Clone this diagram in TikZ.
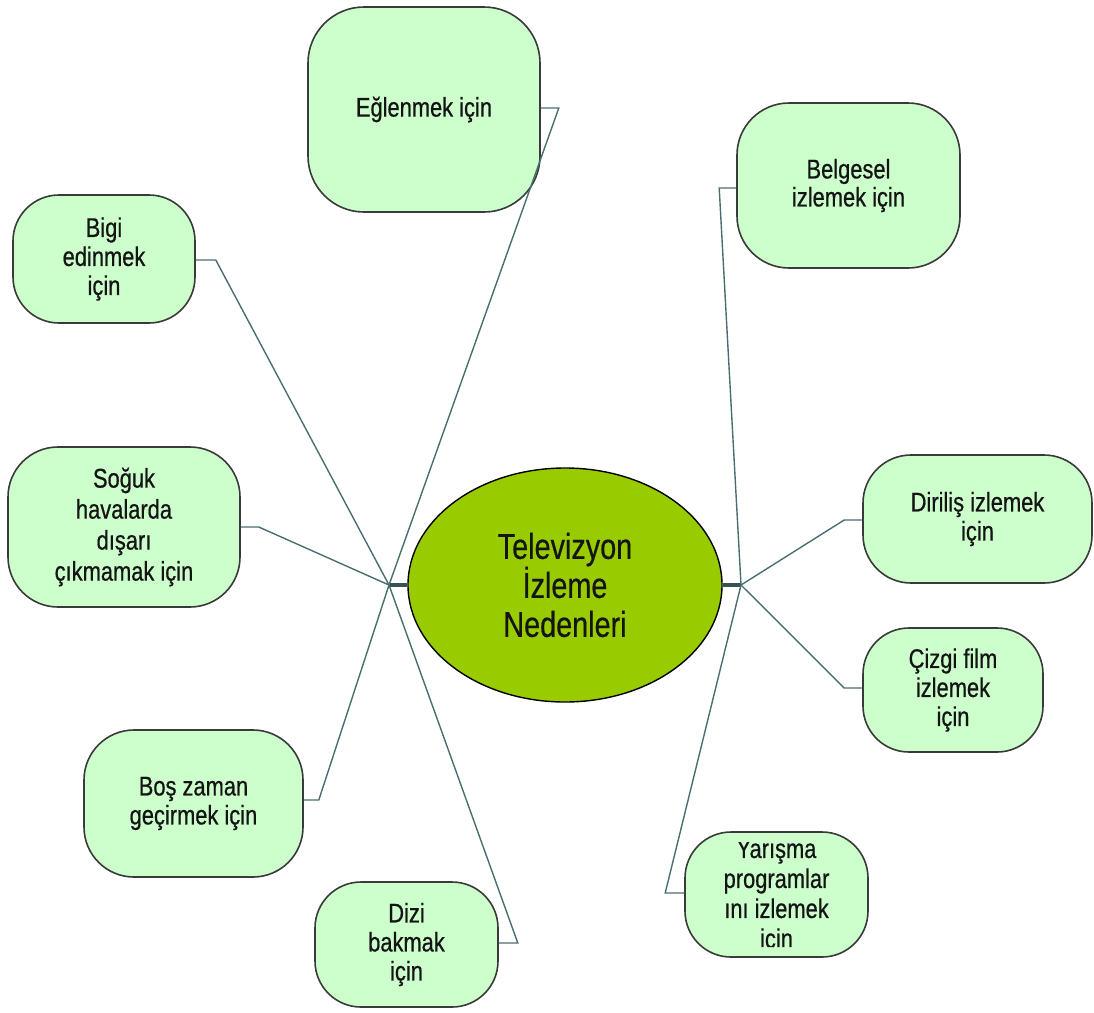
\documentclass[tikz,border=0pt]{standalone}
\usepackage{fontspec}
\setmainfont{Liberation Sans}
\newfontfamily\leafsans[FakeStretch=0.81,FakeBold=0.6]{Liberation Sans}
\newfontfamily\titlesans[FakeStretch=0.8,FakeBold=0.5]{Liberation Sans}
\usetikzlibrary{shapes.geometric}
\definecolor{leaffill}{HTML}{CCFFCC}
\definecolor{hubfill}{HTML}{99CC00}
\definecolor{linkcol}{RGB}{74,110,112}
\definecolor{stubcol}{RGB}{52,84,86}
\definecolor{edgecol}{RGB}{58,58,58}
\definecolor{txtcol}{RGB}{20,20,20}

\begin{document}
\begin{tikzpicture}[x=1pt,y=-1pt,
  leaf/.style={draw=edgecol, line width=1.6pt, fill=leaffill,
    rounded corners=#1, inner sep=0pt, align=center, text=txtcol,
    font=\leafsans\fontsize{27}{29}\selectfont},
  leaf/.default=40pt,
  link/.style={draw=linkcol, line width=1.4pt},
  stub/.style={draw=stubcol, line width=3.5pt}
]
\useasboundingbox (0,0) rectangle (1094,1012);

% central topic
\node[ellipse, draw=black, line width=1.4pt, fill=hubfill, inner sep=0pt,
      minimum width=314pt, minimum height=234pt, align=center, text=txtcol,
      font=\titlesans\fontsize{36}{39}\selectfont]
  (hub) at (565,585) {Televizyon\\İzleme\\Nedenleri};

\coordinate (hubL) at (389,585);
\coordinate (hubR) at (741,585);

% reasons, left side
\node[leaf=56pt, minimum width=232pt, minimum height=205pt]
  (egl) at (424,109.5) {Eğlenmek için};
\node[leaf=46pt, minimum width=182pt, minimum height=128pt]
  (bigi) at (104,259) {Bigi\\edinmek\\için};
\node[leaf=50pt, font=\leafsans\fontsize{27}{31}\selectfont,
      minimum width=232pt, minimum height=160pt]
  (sog) at (124,527) {Soğuk\\havalarda\\dışarı\\çıkmamak için};
\node[leaf=50pt, minimum width=219pt, minimum height=147pt]
  (bos) at (193.5,803.5) {Boş zaman\\geçirmek için};
\node[leaf=46pt, minimum width=183pt, minimum height=125pt]
  (dizi) at (406.5,944.5) {Dizi\\bakmak\\için};

% reasons, right side
\node[leaf=52pt, font=\leafsans\fontsize{27}{28}\selectfont,
      minimum width=223pt, minimum height=165pt]
  (bel) at (848.5,185.5) {Belgesel\\izlemek için};
\node[leaf=48pt, minimum width=229pt, minimum height=128pt]
  (dir) at (977.5,519) {Diriliş izlemek\\için};
\node[leaf=46pt, minimum width=180pt, minimum height=124pt]
  (ciz) at (953,690) {Çizgi film\\izlemek\\için};
% this label overflows its box and is cut off at the inner text area
\node[leaf=46pt, minimum width=183pt, minimum height=125pt,
      path picture={
        \clip ([yshift=-10pt]path picture bounding box.north west)
          rectangle ([yshift=10pt]path picture bounding box.south east);
        \node[align=center, text=txtcol, inner sep=0pt,
          font=\leafsans\fontsize{27}{30}\selectfont]
          at ([yshift=-2pt]path picture bounding box.center)
          {Yarışma\\programlar\\ını izlemek\\için};}]
  (yar) at (776.5,894.5) {};

% hub stubs
\draw[stub] (hub.west) -- (hubL);
\draw[stub] (hub.east) -- (hubR);

% elbow connectors to the left hub
\draw[link] (egl.east |- 0,108) -- ++(18,0) -- (hubL);
\draw[link] (bigi.east |- 0,260) -- ++(20,0) -- (hubL);
\draw[link] (sog.east) -- ++(18,0) -- (hubL);
\draw[link] (bos.east |- 0,800) -- ++(15,0) -- (hubL);
\draw[link] (dizi.east |- 0,943) -- ++(19,0) -- (hubL);

% elbow connectors to the right hub
\draw[link] (bel.west |- 0,188) -- ++(-17,0) -- (hubR);
\draw[link] (dir.west |- 0,520) -- ++(-18,0) -- (hubR);
\draw[link] (ciz.west |- 0,688) -- ++(-18,0) -- (hubR);
\draw[link] (yar.west |- 0,893) -- ++(-19,0) -- (hubR);
\end{tikzpicture}
\end{document}
